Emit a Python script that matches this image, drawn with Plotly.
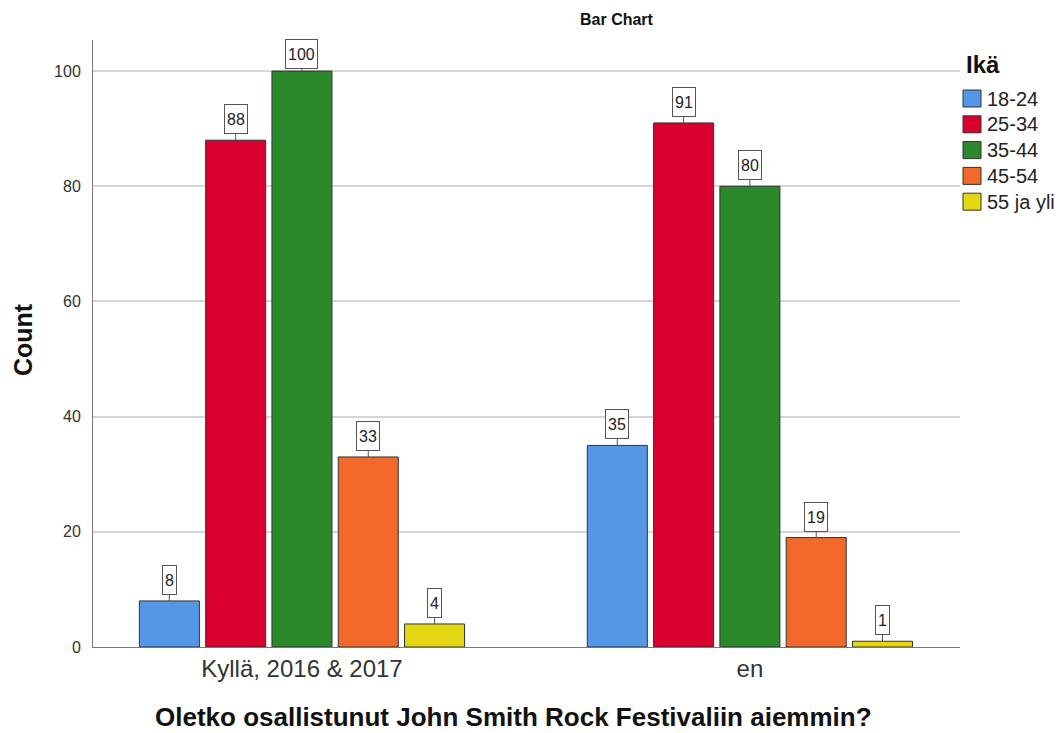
import plotly.graph_objects as go

# Survey data: previous attendance vs. age group
categories = ["Kyllä, 2016 & 2017", "en"]
age_groups = ["18-24", "25-34", "35-44", "45-54", "55 ja yli"]
counts = {
    "18-24": [8, 35],
    "25-34": [88, 91],
    "35-44": [100, 80],
    "45-54": [33, 19],
    "55 ja yli": [4, 1],
}
colors = ["#5597E6", "#D9002F", "#2A8A2B", "#F3692C", "#E3D714"]
y_ticks = [0, 20, 40, 60, 80, 100]

FONT = "Arial, Liberation Sans, sans-serif"
W, H = 1064, 733
L, R, T, B = 93, 104, 40, 86
PLOT_H = H - T - B
Y_MAX = 105.4
slot = 0.148        # horizontal space per bar within a group
bar_w = 0.134       # drawn bar width
LABEL_HALF = 14     # half height of a value box
LABEL_GAP = 7       # leader line length


def px_x(px):
    return (px - L) / (W - L - R)


def px_y(py):
    return (H - B - py) / PLOT_H


fig = go.Figure()
annotations = []
shapes = []
n = len(age_groups)
for i, (grp, col) in enumerate(zip(age_groups, colors)):
    xs = [c + (i - (n - 1) / 2) * slot for c in range(len(categories))]
    vals = counts[grp]
    fig.add_trace(go.Bar(
        x=xs, y=vals, width=bar_w, name=grp,
        marker=dict(color=col, line=dict(color="#333333", width=1)),
        hoverinfo="y", showlegend=False,
    ))
    for x, v in zip(xs, vals):
        # keep the value box inside the plot area
        top_px = T + (1 - v / Y_MAX) * PLOT_H
        offset = min(LABEL_GAP + LABEL_HALF, top_px - T - LABEL_HALF)
        annotations.append(dict(
            x=x, y=v, xref="x", yref="y", text=str(v),
            showarrow=True, arrowhead=0, arrowwidth=1, arrowcolor="#555555",
            ax=0, ay=-offset, standoff=0, height=24,
            bgcolor="white", bordercolor="#555555", borderwidth=1, borderpad=2,
            font=dict(family=FONT, size=16, color="#222222"),
        ))

    # legend entry: bordered swatch + label
    cy = 98.5 + i * 25.8
    shapes.append(dict(
        type="rect", xref="paper", yref="paper",
        x0=px_x(963), x1=px_x(981), y0=px_y(cy + 8.5), y1=px_y(cy - 8.5),
        fillcolor=col, line=dict(color="#333333", width=1),
    ))
    annotations.append(dict(
        x=px_x(985), y=px_y(cy), xref="paper", yref="paper",
        xanchor="left", yanchor="middle", text=grp, showarrow=False,
        font=dict(family=FONT, size=20, color="#222222"),
    ))

annotations += [
    dict(x=px_x(964), y=px_y(65), xref="paper", yref="paper",
         xanchor="left", yanchor="middle", text="<b>Ikä</b>", showarrow=False,
         font=dict(family=FONT, size=24, color="#111111")),
    dict(x=px_x(617), y=px_y(20), xref="paper", yref="paper",
         xanchor="center", yanchor="middle", text="<b>Bar Chart</b>", showarrow=False,
         font=dict(family=FONT, size=16, color="#111111")),
    # axis titles
    dict(x=px_x(513), y=px_y(717), xref="paper", yref="paper",
         xanchor="center", yanchor="middle", showarrow=False,
         text="<b>Oletko osallistunut John Smith Rock Festivaliin aiemmin?</b>",
         font=dict(family=FONT, size=26, color="#111111")),
    dict(x=px_x(23), y=px_y(340), xref="paper", yref="paper",
         xanchor="center", yanchor="middle", showarrow=False, textangle=-90,
         text="<b>Count</b>", font=dict(family=FONT, size=25, color="#111111")),
]

fig.update_layout(
    width=W, height=H,
    margin=dict(l=L, r=R, t=T, b=B),
    plot_bgcolor="white", paper_bgcolor="white",
    barmode="overlay",
    font=dict(family=FONT, color="#222222"),
    annotations=annotations,
    shapes=shapes,
    showlegend=False,
    xaxis=dict(
        range=[-0.4665, 1.469], automargin=False,
        tickmode="array", tickvals=list(range(len(categories))), ticktext=categories,
        tickfont=dict(family=FONT, size=24, color="#333333"),
        showgrid=False, zeroline=False, showline=True, linecolor="#777777", linewidth=1,
        ticks="", ticklen=0,
    ),
    yaxis=dict(
        range=[0, Y_MAX], automargin=False,
        tickmode="array", tickvals=y_ticks,
        tickfont=dict(family=FONT, size=16, color="#333333"),
        showgrid=True, gridcolor="#D6D6D6", gridwidth=1.5,
        zeroline=False, showline=True, linecolor="#777777", linewidth=1,
        ticks="", ticklabelstandoff=8,
    ),
)

fig.write_html("out.html")
